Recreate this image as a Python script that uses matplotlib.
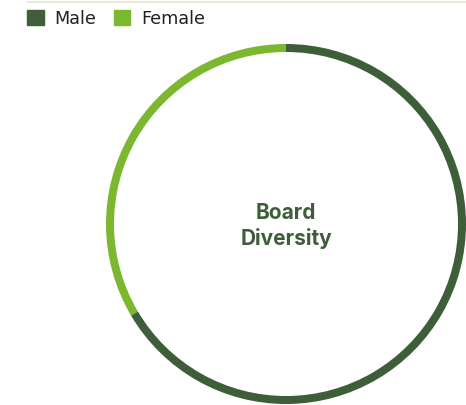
import matplotlib.pyplot as plt
from matplotlib.patches import Patch
from matplotlib.lines import Line2D

labels = ["Male", "Female"]
values = [66.5, 33.5]
colors = ["#3d5e38", "#7cb82f"]
title = "Board\nDiversity"

W, H = 466, 405
fig = plt.figure(figsize=(W / 100, H / 100), dpi=100)
ax = fig.add_axes([0, 0, 1, 1])

# female first so it runs counterclockwise from 12 o'clock
ax.pie(values[::-1], colors=colors[::-1], startangle=90, counterclock=True,
       center=(286, H - 224), radius=180,
       wedgeprops=dict(width=8, linewidth=0), frame=True)
ax.set_xlim(0, W)
ax.set_ylim(0, H)
ax.set_aspect("equal")
ax.axis("off")

ax.text(286, H - 226, title, ha="center", va="center", fontsize=15,
        fontweight="bold", color=colors[0], linespacing=1.3,
        family=["Inter", "DejaVu Sans"])

# thin rule at the top
fig.add_artist(Line2D([28 / W, 1], [1 - 1.5 / H, 1 - 1.5 / H], color="#e4ecd5", lw=1.5))

handles = [Patch(color=c, label=l) for c, l in zip(colors, labels)]
fig.legend(handles=handles, loc="upper left", bbox_to_anchor=(11 / W, 1 + 6 / H),
           ncol=2, frameon=False, fontsize=12.7, handlelength=0.95, handleheight=0.95,
           handletextpad=0.6, columnspacing=1.0, labelcolor="#222222")

fig.savefig("out.png", dpi=100)
